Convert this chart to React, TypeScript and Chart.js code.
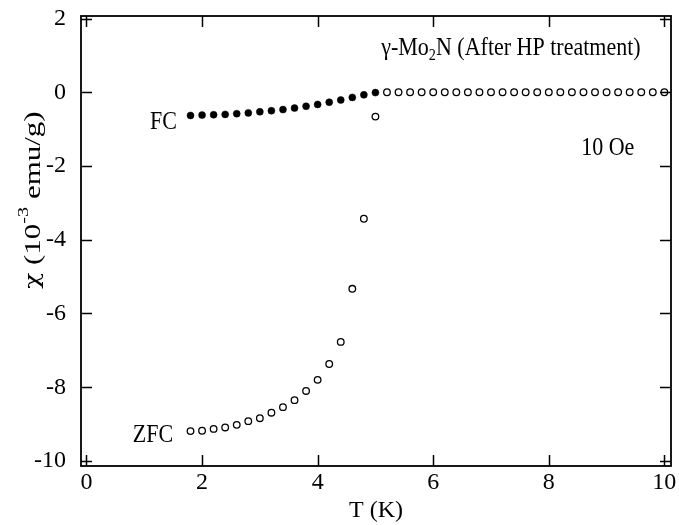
import React, { useEffect, useRef } from 'react';
import { Chart, registerables } from 'chart.js';

Chart.register(...registerables);

// ZFC: temperature (K) and susceptibility (10^-3 emu/g)
const ZFC_T = [
  1.8, 2.0, 2.2, 2.4, 2.6, 2.8, 3.0, 3.2, 3.4, 3.6, 3.8, 4.0, 4.2, 4.4, 4.6, 4.8, 5.0,
  5.2, 5.4, 5.6, 5.8, 6.0, 6.2, 6.4, 6.6, 6.8, 7.0, 7.2, 7.4, 7.6, 7.8, 8.0,
  8.2, 8.4, 8.6, 8.8, 9.0, 9.2, 9.4, 9.6, 9.8, 10.0,
];
const ZFC_CHI = [
  -9.19, -9.18, -9.13, -9.09, -9.02, -8.92, -8.84, -8.69, -8.54, -8.35, -8.10, -7.80, -7.37, -6.77, -5.33, -3.43, -0.66,
  0, 0, 0, 0, 0, 0, 0, 0, 0, 0, 0, 0, 0, 0, 0,
  0, 0, 0, 0, 0, 0, 0, 0, 0, 0,
];

// FC
const FC_T = [1.8, 2.0, 2.2, 2.4, 2.6, 2.8, 3.0, 3.2, 3.4, 3.6, 3.8, 4.0, 4.2, 4.4, 4.6, 4.8, 5.0];
const FC_CHI = [-0.63, -0.62, -0.61, -0.60, -0.58, -0.56, -0.53, -0.50, -0.47, -0.43, -0.38, -0.33, -0.27, -0.21, -0.14, -0.07, -0.01];

const X_TICKS = [0, 2, 4, 6, 8, 10];
const Y_TICKS = [2, 0, -2, -4, -6, -8, -10];

const X_MIN = -0.095;
const X_MAX = 10.115;
const Y_MIN = -10.136;
const Y_MAX = 2.068;

const FONT = "'Liberation Serif', 'Times New Roman', serif";
const GREEK_FONT = "'DejaVu Serif', serif";

type Part = { t: string; k?: 'sub' | 'sup'; f?: string; s?: number };

// annotation texts placed in data coordinates (left edge, baseline)
const ANNOTATIONS: { parts: Part[]; x: number; y: number }[] = [
  { parts: [{ t: 'γ-Mo' }, { t: '2', k: 'sub' }, { t: 'N (After HP treatment)' }], x: 5.1, y: 1.01 },
  { parts: [{ t: '10 Oe' }], x: 8.56, y: -1.70 },
  { parts: [{ t: 'FC' }], x: 1.1, y: -1.01 },
  { parts: [{ t: 'ZFC' }], x: 0.8, y: -9.48 },
];

const Y_TITLE: Part[] = [
  { t: 'χ', f: GREEK_FONT, s: 0.85 },
  { t: ' (10' },
  { t: '-3', k: 'sup' },
  { t: ' emu/g)' },
];

function partFont(p: Part, size: number) {
  let s = p.k ? size * 0.65 : size;
  if (p.s) s *= p.s;
  return `${s}px ${p.f || FONT}`;
}

function drawRich(ctx: CanvasRenderingContext2D, parts: Part[], size: number, startX: number) {
  let x = startX;
  for (const p of parts) {
    ctx.font = partFont(p, size);
    const dy = p.k === 'sub' ? size * 0.2 : p.k === 'sup' ? -size * 0.42 : 0;
    ctx.fillText(p.t, x, dy);
    x += ctx.measureText(p.t).width;
  }
  return x - startX;
}

function measureRich(ctx: CanvasRenderingContext2D, parts: Part[], size: number) {
  let w = 0;
  for (const p of parts) {
    ctx.font = partFont(p, size);
    w += ctx.measureText(p.t).width;
  }
  return w;
}

const framePlugin = {
  id: 'frameTicks',
  afterDatasetsDraw(chart: any) {
    const { ctx, chartArea: a } = chart;
    const xs = chart.scales.x;
    const ys = chart.scales.y;
    ctx.save();
    ctx.strokeStyle = '#000';
    ctx.lineWidth = 1.8;
    ctx.strokeRect(a.left, a.top, a.right - a.left, a.bottom - a.top);
    ctx.lineWidth = 1.5;
    const L = 11;
    ctx.beginPath();
    X_TICKS.forEach((v) => {
      const px = Math.round(xs.getPixelForValue(v)) + 0.5;
      ctx.moveTo(px, a.bottom);
      ctx.lineTo(px, a.bottom - L);
      ctx.moveTo(px, a.top);
      ctx.lineTo(px, a.top + L);
    });
    Y_TICKS.forEach((v) => {
      const py = Math.round(ys.getPixelForValue(v)) + 0.5;
      ctx.moveTo(a.left, py);
      ctx.lineTo(a.left + L, py);
      ctx.moveTo(a.right, py);
      ctx.lineTo(a.right - L, py);
    });
    ctx.stroke();

    // annotations
    ctx.fillStyle = '#000';
    ctx.textBaseline = 'alphabetic';
    ctx.textAlign = 'left';
    const size = 25;
    for (const an of ANNOTATIONS) {
      ctx.save();
      ctx.translate(xs.getPixelForValue(an.x), ys.getPixelForValue(an.y));
      ctx.scale(0.88, 1);
      drawRich(ctx, an.parts, size, 0);
      ctx.restore();
    }

    // y axis title (rotated)
    const tSize = 31;
    ctx.save();
    ctx.translate(34, 200);
    ctx.rotate(-Math.PI / 2);
    ctx.scale(1, 0.76);
    ctx.textBaseline = 'middle';
    const w = measureRich(ctx, Y_TITLE, tSize);
    drawRich(ctx, Y_TITLE, tSize, -w / 2);
    ctx.restore();

    ctx.restore();
  },
};

export default function App() {
  const ref = useRef<HTMLCanvasElement>(null);

  useEffect(() => {
    if (!ref.current) return;
    const zfc = ZFC_T.map((t, i) => ({ x: t, y: ZFC_CHI[i] }));
    const fc = FC_T.map((t, i) => ({ x: t, y: FC_CHI[i] }));
    const tickFont = { family: FONT, size: 24 };
    const chart = new Chart(ref.current, {
      type: 'scatter',
      data: {
        datasets: [
          {
            label: 'ZFC',
            data: zfc,
            pointStyle: 'circle',
            pointRadius: 3.3,
            pointBackgroundColor: '#fff',
            pointBorderColor: '#000',
            pointBorderWidth: 1.3,
            showLine: false,
          },
          {
            label: 'FC',
            data: fc,
            pointStyle: 'circle',
            pointRadius: 3.5,
            pointBackgroundColor: '#000',
            pointBorderColor: '#000',
            pointBorderWidth: 0.5,
            showLine: false,
          },
        ],
      },
      options: {
        animation: false,
        responsive: true,
        maintainAspectRatio: false,
        layout: { padding: { top: 16, right: 8, left: 0, bottom: 0 } },
        plugins: {
          legend: { display: false },
          tooltip: { enabled: false },
          title: { display: false },
        },
        scales: {
          x: {
            type: 'linear',
            min: X_MIN,
            max: X_MAX,
            grid: { display: false, drawTicks: false },
            border: { display: false },
            afterBuildTicks: (s: any) => {
              s.ticks = X_TICKS.map((v) => ({ value: v }));
            },
            afterFit: (s: any) => {
              s.height = 59;
              s.paddingLeft = 0;
              s.paddingRight = 0;
            },
            ticks: {
              font: tickFont,
              color: '#000',
              padding: 2,
              maxRotation: 0,
              autoSkip: false,
            },
            title: {
              display: true,
              text: 'T (K)',
              color: '#000',
              font: { family: FONT, size: 24 },
              padding: { top: 0, bottom: 0 },
            },
          },
          y: {
            type: 'linear',
            min: Y_MIN,
            max: Y_MAX,
            grid: { display: false, drawTicks: false },
            border: { display: false },
            afterBuildTicks: (s: any) => {
              s.ticks = Y_TICKS.map((v) => ({ value: v }));
            },
            afterFit: (s: any) => {
              s.width = 81;
              s.paddingTop = 0;
              s.paddingBottom = 0;
            },
            ticks: {
              font: tickFont,
              color: '#000',
              padding: 15,
              autoSkip: false,
            },
          },
        },
      },
      plugins: [framePlugin],
    });
    return () => chart.destroy();
  }, []);

  return (
    <div style={{ position: 'absolute', left: 0, top: 0, width: 679, height: 525, background: '#fff' }}>
      <canvas ref={ref} />
    </div>
  );
}
